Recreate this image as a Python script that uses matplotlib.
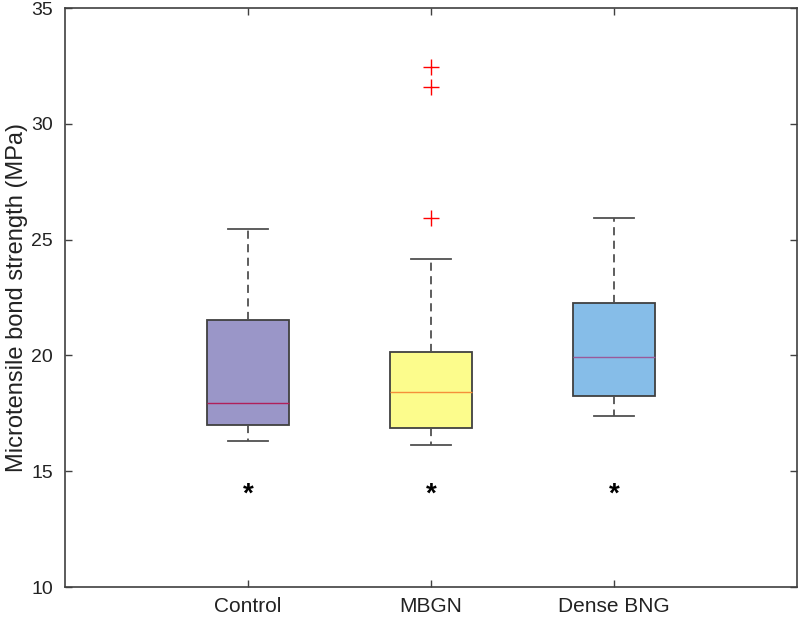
import matplotlib
matplotlib.use("Agg")
import matplotlib.pyplot as plt

plt.rcParams['font.family'] = ['Liberation Sans', 'DejaVu Sans']

# box statistics (MPa)
groups = ["Control", "MBGN", "Dense BNG"]
whisker_low = [16.3, 16.15, 17.4]
q1 = [17.0, 16.85, 18.25]
median = [17.95, 18.4, 19.95]
q3 = [21.55, 20.15, 22.25]
whisker_high = [25.45, 24.15, 25.95]
outliers = [[], [32.45, 31.6, 25.95], []]
star_y = [14.0, 14.0, 14.0]

box_colors = ["#9a96c8", "#fcfc8c", "#86bde8"]
median_colors = ["#b0205a", "#f5903a", "#9a5a9a"]

fig = plt.figure(figsize=(8, 6.17), dpi=100)
ax = fig.add_axes([0.081, 0.0486, 0.915, 0.9384])

stats = []
for i, g in enumerate(groups):
    stats.append({"label": g, "med": median[i], "q1": q1[i], "q3": q3[i],
                  "whislo": whisker_low[i], "whishi": whisker_high[i],
                  "fliers": outliers[i]})

positions = [1, 2, 3]
bp = ax.bxp(stats, positions=positions, widths=0.45, patch_artist=True,
            showfliers=True,
            boxprops=dict(edgecolor="#404040", linewidth=1.3),
            whiskerprops=dict(color="#505050", linestyle=(0, (4.5, 3)), linewidth=1.3),
            capprops=dict(color="#505050", linewidth=1.3),
            capwidths=0.22,
            flierprops=dict(marker="+", markeredgecolor="red", markersize=12,
                            markeredgewidth=1.0, linestyle="none"))

for i, patch in enumerate(bp["boxes"]):
    patch.set_facecolor(box_colors[i])
for i, med in enumerate(bp["medians"]):
    med.set_color(median_colors[i])
    med.set_linewidth(1.0)

# significance markers
for x, y in zip(positions, star_y):
    ax.text(x, y, "*", ha="center", va="center", fontsize=20, fontweight="bold")

ax.set_xlim(0, 4)
ax.set_ylim(10, 35)
ax.set_yticks([10, 15, 20, 25, 30, 35])
ax.set_xticks(positions)
ax.set_xticklabels(groups)
ax.set_ylabel("Microtensile bond strength (MPa)", fontsize=17, color="#222222", labelpad=2)

ax.tick_params(direction="in", length=5, width=1, color="#404040",
               top=True, right=True, labelcolor="#222222")
ax.tick_params(axis="y", labelsize=14, pad=8.5)
ax.tick_params(axis="x", labelsize=15, pad=7)
for sp in ax.spines.values():
    sp.set_color("#404040")
    sp.set_linewidth(1.2)

fig.savefig("out.png", dpi=100)
